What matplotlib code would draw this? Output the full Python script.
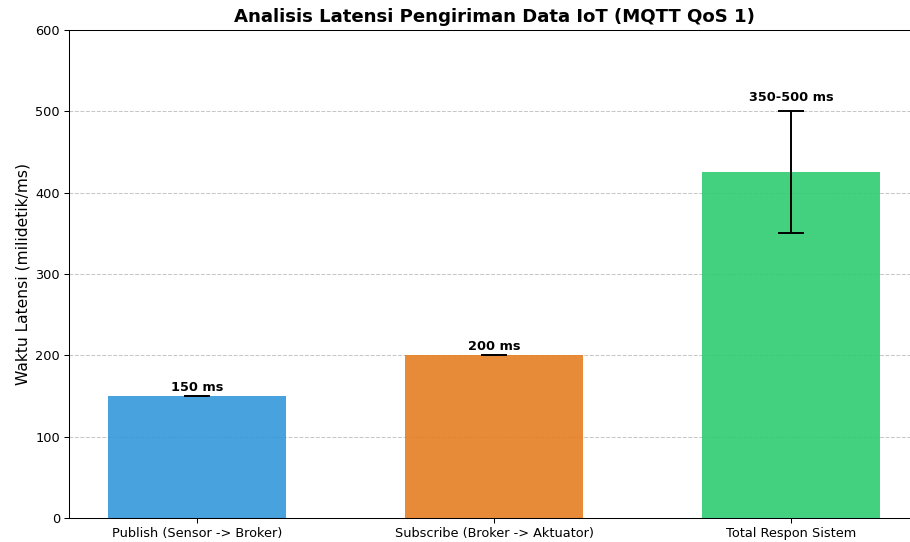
import matplotlib.pyplot as plt

categories = ['Publish (Sensor -> Broker)', 'Subscribe (Broker -> Aktuator)', 'Total Respon Sistem']
latency = [150, 200, 425]
error = [0, 0, 75]
labels = ['150 ms', '200 ms', '350-500 ms']
colors = ['#3498db', '#e67e22', '#2ecc71']


def generate_chart():
    # original looks like a slightly downscaled render, so use a lower dpi
    dpi = 93
    fig = plt.figure(figsize=(910 / dpi, 542 / dpi), dpi=dpi)
    # axes run past the right edge, like the cropped original
    ax = fig.add_axes([69 / 910, 24 / 542, 850 / 910, 488 / 542])

    bars = ax.bar(categories, latency, yerr=error, capsize=10, color=colors,
                  alpha=0.9, width=0.6, error_kw={'elinewidth': 1.5, 'capthick': 1.5})

    for bar, val, err, lab in zip(bars, latency, error, labels):
        pad = 9 if err else 3
        ax.text(bar.get_x() + bar.get_width() / 2, val + err + pad, lab,
                ha='center', va='bottom', fontsize=10, fontweight='bold')

    ax.set_ylim(0, 600)
    ax.set_ylabel('Waktu Latensi (milidetik/ms)', fontsize=12)
    ax.set_title('Analisis Latensi Pengiriman Data IoT (MQTT QoS 1)', fontsize=14, fontweight='bold')
    ax.grid(axis='y', linestyle='--', alpha=0.7)
    ax.set_axisbelow(True)

    fig.savefig('out.png', dpi=dpi)


if __name__ == "__main__":
    generate_chart()
